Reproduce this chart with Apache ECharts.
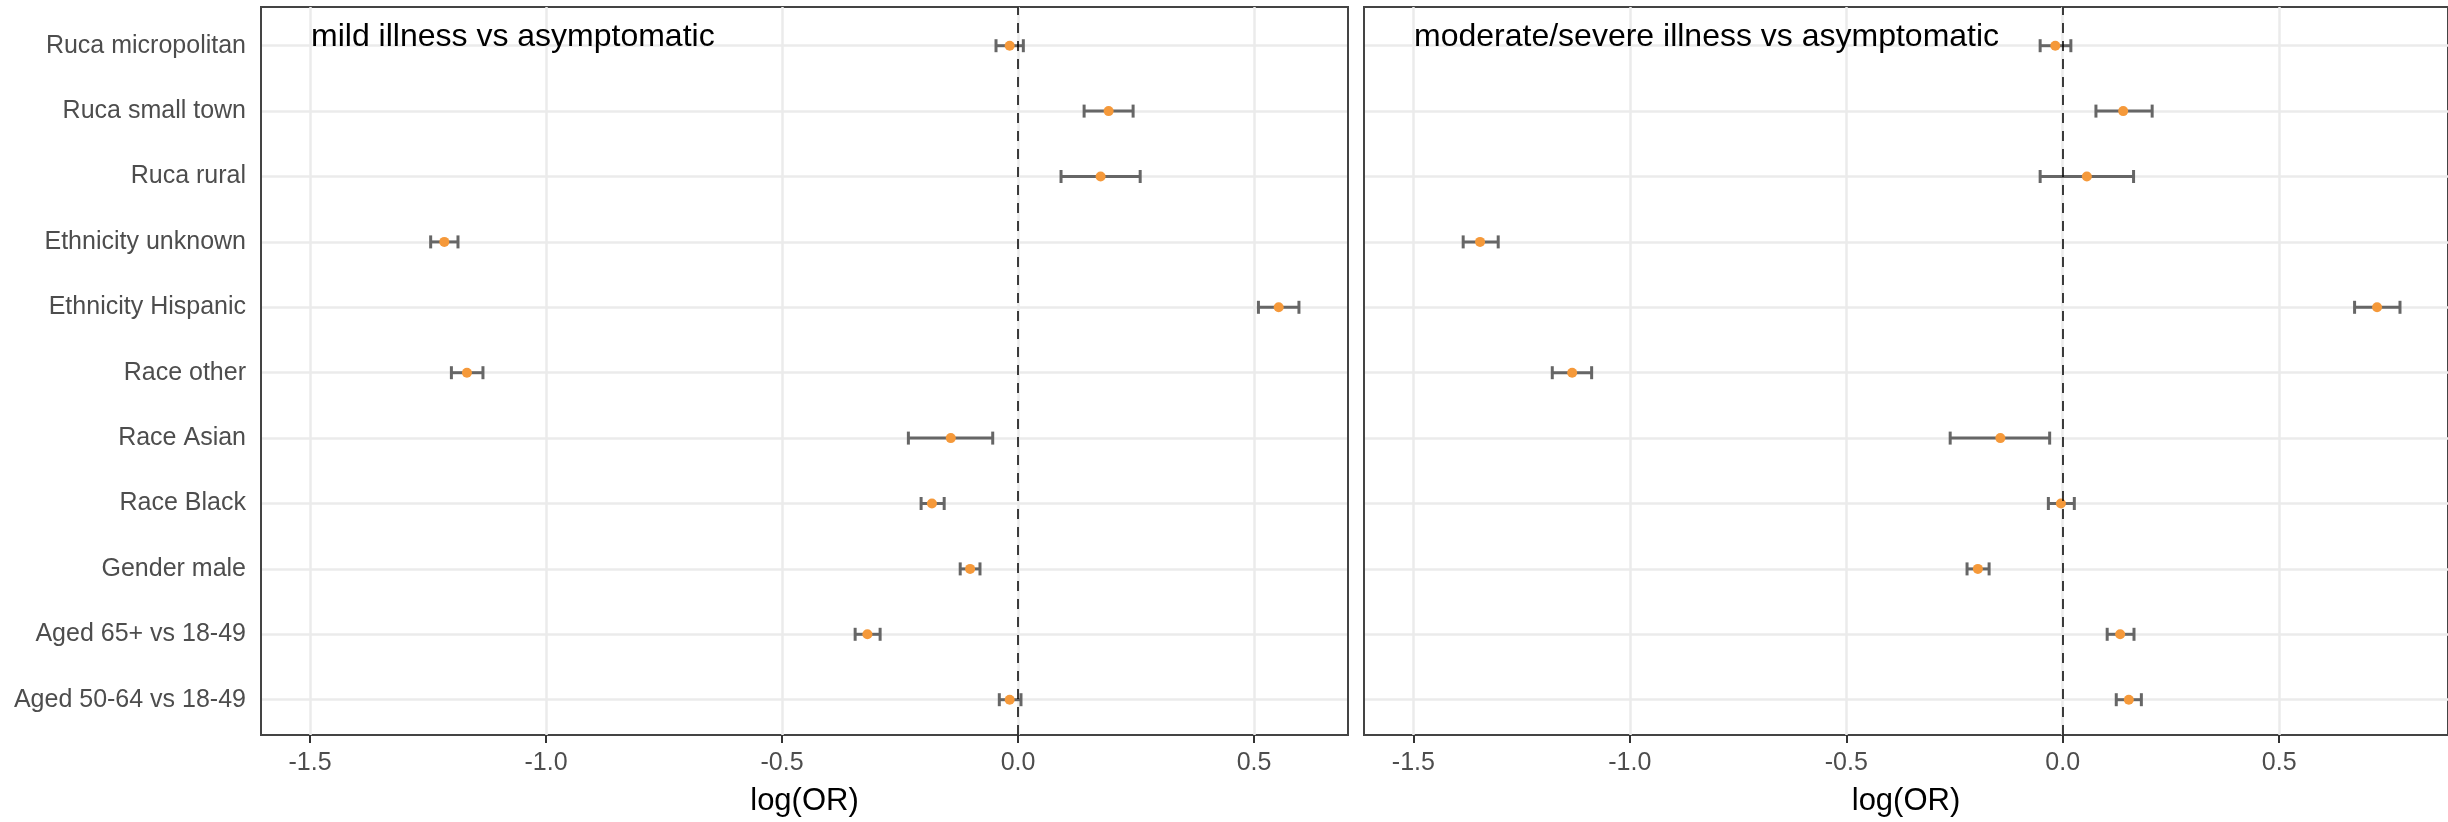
<!DOCTYPE html>
<html>
<head>
<meta charset="utf-8">
<script src="https://cdn.jsdelivr.net/npm/echarts@6/dist/echarts.min.js"></script>
<style>
  html, body { margin: 0; padding: 0; background: #fff; }
  #chart { width: 2448px; height: 822px; }
</style>
</head>
<body>
<div id="chart"></div>
<script>
// categories top to bottom
var categories = ['Ruca micropolitan', 'Ruca small town', 'Ruca rural', 'Ethnicity unknown',
  'Ethnicity Hispanic', 'Race other', 'Race Asian', 'Race Black', 'Gender male',
  'Aged 65+ vs 18-49', 'Aged 50-64 vs 18-49']

// mild illness vs asymptomatic
var mildEst = [-0.017, 0.193, 0.176, -1.217, 0.554, -1.169, -0.142, -0.182, -0.101, -0.319, -0.017]
var mildLo  = [-0.046, 0.141, 0.092, -1.246, 0.511, -1.202, -0.232, -0.205, -0.122, -0.345, -0.039]
var mildHi  = [ 0.012, 0.245, 0.260, -1.188, 0.597, -1.135, -0.053, -0.156, -0.080, -0.292,  0.007]

// moderate/severe illness vs asymptomatic
var modEst = [-0.018, 0.139, 0.055, -1.348, 0.726, -1.135, -0.145, -0.005, -0.197, 0.132, 0.152]
var modLo  = [-0.053, 0.076, -0.053, -1.387, 0.674, -1.181, -0.261, -0.034, -0.222, 0.102, 0.123]
var modHi  = [ 0.018, 0.206, 0.163, -1.306, 0.779, -1.090, -0.031, 0.026, -0.171, 0.164, 0.181]

var xTicks = [-1.5, -1.0, -0.5, 0.0, 0.5]
var panelTitles = ['mild illness vs asymptomatic', 'moderate/severe illness vs asymptomatic']

var font = 'Liberation Sans, Arial, Helvetica, sans-serif'
var myChart = echarts.init(document.getElementById('chart'))

function errorBar(params, api) {
  var lo = api.coord([api.value(0), api.value(2)])
  var hi = api.coord([api.value(1), api.value(2)])
  var h = 6.5
  var style = { stroke: '#666666', lineWidth: 3 }
  return {
    type: 'group',
    children: [
      { type: 'line', shape: { x1: lo[0], y1: lo[1], x2: hi[0], y2: hi[1] }, style: style },
      { type: 'line', shape: { x1: lo[0], y1: lo[1] - h, x2: lo[0], y2: lo[1] + h }, style: style },
      { type: 'line', shape: { x1: hi[0], y1: hi[1] - h, x2: hi[0], y2: hi[1] + h }, style: style }
    ]
  }
}

var panels = [
  { left: 261, min: -1.604, max: 0.699, est: mildEst, lo: mildLo, hi: mildHi, labels: true },
  { left: 1364, min: -1.614, max: 0.890, est: modEst, lo: modLo, hi: modHi, labels: false }
]
var panelWidth = 1087

var grid = [], xAxis = [], yAxis = [], series = [], title = []
panels.forEach(function (p, k) {
  var f = k * 2, d = k * 2 + 1
  // frame grid: border, x axis, vertical gridlines, zero line
  grid.push({ left: p.left, top: 7, width: panelWidth, height: 732, show: true,
    borderColor: '#444444', borderWidth: 2, backgroundColor: 'transparent' })
  // data grid: category rows
  grid.push({ left: p.left + 1, top: 45.7, width: panelWidth - 2, height: 654 })

  xAxis.push({
    type: 'value', gridIndex: f, min: p.min, max: p.max,
    name: 'log(OR)', nameLocation: 'middle', nameGap: 51,
    nameTextStyle: { fontSize: 31, color: '#000', fontFamily: font },
    axisLine: { show: false },
    axisTick: { show: true, length: 8, customValues: xTicks, lineStyle: { color: '#333333', width: 2 } },
    axisLabel: { show: true, customValues: xTicks, fontSize: 25, color: '#4d4d4d', fontFamily: font, margin: 16,
      formatter: function (v) { return v.toFixed(1) } },
    splitLine: { show: true, lineStyle: { color: '#ebebeb', width: 2.5 } }
  })
  yAxis.push({ type: 'value', gridIndex: f, min: 0, max: 1, show: false })

  xAxis.push({ type: 'value', gridIndex: d, min: p.min, max: p.max, show: false })
  yAxis.push({
    type: 'category', gridIndex: d, data: categories, inverse: true, boundaryGap: false,
    axisLine: { show: false }, axisTick: { show: false },
    axisLabel: { show: p.labels, interval: 0, fontSize: 25, color: '#4d4d4d', fontFamily: font, margin: 16 },
    splitLine: { show: true, interval: 0, lineStyle: { color: '#ebebeb', width: 2.5 } }
  })

  series.push({
    type: 'line', xAxisIndex: f, yAxisIndex: f, data: [], silent: true,
    markLine: { symbol: 'none', silent: true, label: { show: false },
      lineStyle: { color: '#000', width: 1.5, type: [10, 8] }, data: [{ xAxis: 0 }] }
  })
  series.push({
    type: 'custom', xAxisIndex: d, yAxisIndex: d, renderItem: errorBar, z: 3,
    encode: { x: [0, 1], y: 2 },
    data: p.lo.map(function (v, i) { return [v, p.hi[i], i] })
  })
  series.push({
    type: 'scatter', xAxisIndex: d, yAxisIndex: d, symbolSize: 10, z: 4,
    itemStyle: { color: '#f5993a', opacity: 1 },
    data: p.est.map(function (v, i) { return [v, i] })
  })

  title.push({ text: panelTitles[k], left: p.left + 50, top: 21, padding: 0,
    textStyle: { fontSize: 32, fontWeight: 'normal', color: '#000', fontFamily: font } })
})

var option = {
  animation: false,
  backgroundColor: '#fff',
  title: title,
  grid: grid,
  xAxis: xAxis,
  yAxis: yAxis,
  series: series
}
option && myChart.setOption(option)
window.addEventListener('resize', myChart.resize)
</script>
</body>
</html>
